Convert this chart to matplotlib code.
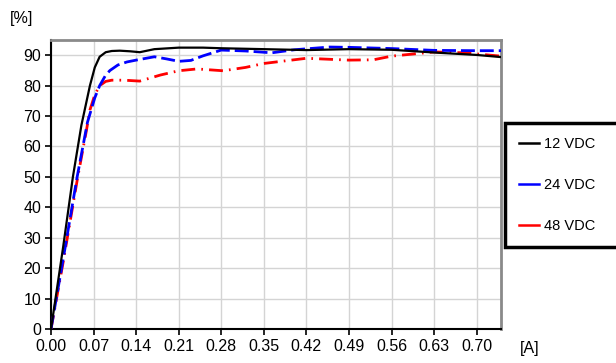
import matplotlib.pyplot as plt
from matplotlib.lines import Line2D
import numpy as np

plt.rcParams['font.family'] = ['Liberation Sans', 'DejaVu Sans']

# current [A] vs efficiency [%]
x_12 = [0.0, 0.02, 0.036, 0.05, 0.064, 0.072, 0.08, 0.09, 0.10, 0.113, 0.13, 0.146,
        0.17, 0.21, 0.25, 0.28, 0.35, 0.42, 0.49, 0.56, 0.63, 0.70, 0.74]
y_12 = [0.0, 27, 50, 67, 80, 86, 89.5, 91, 91.4, 91.5, 91.3, 91.0,
        92.0, 92.5, 92.5, 92.3, 92.0, 91.7, 92.0, 91.8, 90.9, 90.1, 89.4]

x_24 = [0.0, 0.02, 0.043, 0.06, 0.072, 0.08, 0.09, 0.097, 0.11, 0.125, 0.14, 0.17,
        0.19, 0.21, 0.23, 0.25, 0.28, 0.32, 0.363, 0.40, 0.458, 0.49, 0.56, 0.63, 0.70, 0.74]
y_24 = [0.0, 23, 50, 68, 76, 80, 83.5, 85, 86.8, 87.8, 88.4, 89.5,
        88.8, 88.0, 88.3, 89.8, 91.7, 91.4, 90.8, 91.8, 92.7, 92.6, 92.2, 91.6, 91.5, 91.5]

x_48 = [0.0, 0.02, 0.044, 0.058, 0.064, 0.072, 0.08, 0.09, 0.10, 0.12, 0.146, 0.18,
        0.21, 0.24, 0.283, 0.32, 0.35, 0.42, 0.49, 0.53, 0.56, 0.63, 0.68, 0.74]
y_48 = [0.0, 22, 50, 65, 72, 77, 80, 81.4, 81.8, 81.8, 81.5, 83.5,
        84.9, 85.5, 84.9, 86, 87.3, 89.0, 88.4, 88.5, 89.7, 91.1, 90.8, 89.7]

labels = ['12 VDC', '24 VDC', '48 VDC']
colors = ['black', 'blue', 'red']

x_ticks = [0.00, 0.07, 0.14, 0.21, 0.28, 0.35, 0.42, 0.49, 0.56, 0.63, 0.70]
y_ticks = [0, 10, 20, 30, 40, 50, 60, 70, 80, 90]

fig = plt.figure(figsize=(6.16, 3.63), dpi=100)
ax = fig.add_axes([0.0828, 0.0937, 0.7305, 0.796])

ax.plot(x_12, y_12, color=colors[0], lw=1.6, zorder=5)
ax.plot(x_24, y_24, color=colors[1], lw=2.0, ls=(0, (5, 1.8)), zorder=4)
ax.plot(x_48, y_48, color=colors[2], lw=2.0, ls=(0, (5, 2.2, 0.6, 2.2)), zorder=3)

ax.set_xlim(0, 0.74)
ax.set_ylim(0, 95)
ax.set_xticks(x_ticks)
ax.set_xticklabels([f'{v:.2f}' for v in x_ticks])
ax.set_yticks(y_ticks)
ax.grid(True, color='#d4d4d4', lw=1.0)
ax.set_axisbelow(True)
ax.tick_params(axis='both', labelsize=11.5, direction='out', length=4,
               width=1.2, colors='black', pad=3)

for s in ['top', 'right']:
    ax.spines[s].set_color('#8a8a8a')
    ax.spines[s].set_linewidth(2.0)
for s in ['left', 'bottom']:
    ax.spines[s].set_color('black')
    ax.spines[s].set_linewidth(1.5)

fig.text(22 / 616, 1 - 18 / 363, '[%]', fontsize=11.5, ha='center', va='center')
fig.text(530 / 616, 1 - 348 / 363, '[A]', fontsize=11.5, ha='center', va='center')

handles = [Line2D([], [], color=c, lw=1.8) for c in colors]
leg = fig.legend(handles, labels, loc='upper left',
                 bbox_to_anchor=(505 / 616, 1 - 123 / 363, 0.25, 0.0),
                 mode='expand', fontsize=10.5, labelspacing=1.87, borderpad=0.95,
                 handlelength=1.4, handletextpad=0.3, borderaxespad=0,
                 fancybox=False, frameon=True, framealpha=1)
leg.get_frame().set_edgecolor('black')
leg.get_frame().set_linewidth(2.5)

fig.savefig('out.png', dpi=100)
